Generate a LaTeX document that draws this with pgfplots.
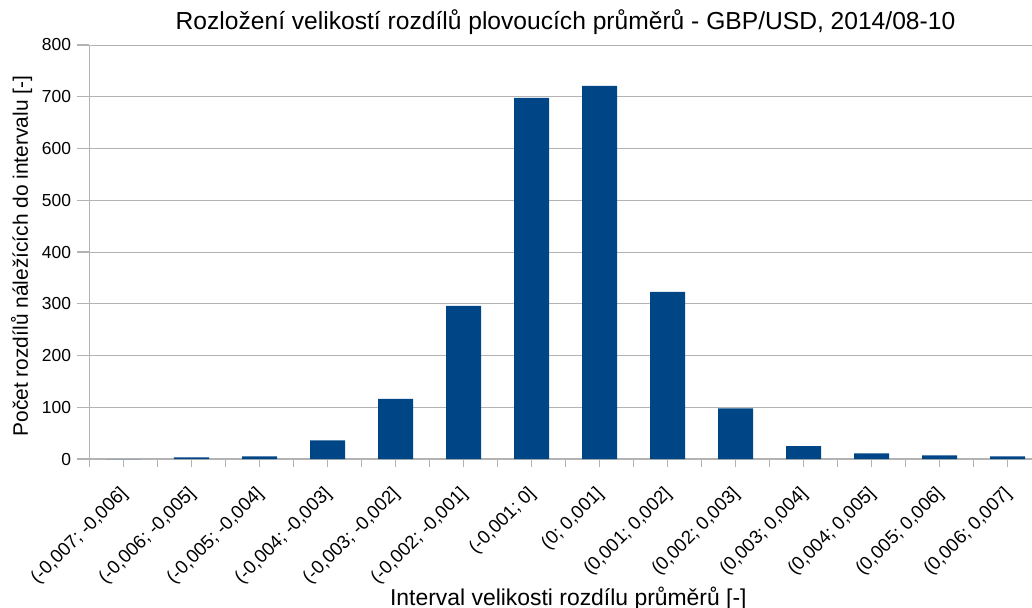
\documentclass[border=0pt]{standalone}
\usepackage{fontspec}
\setmainfont{Liberation Sans}
\usepackage{pgfplots}
\pgfplotsset{compat=1.18}
\definecolor{barc}{HTML}{004586}
\definecolor{gridc}{HTML}{B3B3B3}
\begin{document}
\begin{tikzpicture}
\begin{axis}[
  scale only axis, width=952bp, height=414bp,
  xmin=-0.5, xmax=13.5, ymin=0, ymax=800,
  ytick={0,100,...,800},
  xtick={-0.5,0.5,...,13.5},
  xticklabels={},
  extra x ticks={0,...,13},
  extra x tick labels={{(-0,007; -0,006]},{(-0,006; -0,005]},{(-0,005; -0,004]},{(-0,004; -0,003]},{(-0,003; -0,002]},{(-0,002; -0,001]},{(-0,001; 0]},{(0; 0,001]},{(0,001; 0,002]},{(0,002; 0,003]},{(0,003; 0,004]},{(0,004; 0,005]},{(0,005; 0,006]},{(0,006; 0,007]}},
  extra x tick style={grid=none, major tick length=0pt,
    tick label style={xshift=-5bp, yshift=-21bp, rotate=45, anchor=north east, font=\fontsize{18.7}{22}\selectfont}},
  xtick style={draw=gridc, line width=1.2bp, /pgfplots/major tick length=8bp},
  y tick label style={xshift=-3bp, font=\fontsize{17.5}{21}\selectfont},
  axis x line*=bottom, axis y line*=left,
  axis line style={-, draw=gridc, line width=1.5bp},
  tick align=outside,
  ytick style={draw=gridc, line width=1.2bp},
  major tick length=12bp,
  ymajorgrids, grid style={draw=gridc, line width=0.8bp},
  title={Rozložení velikostí rozdílů plovoucích průměrů - GBP/USD, 2014/08-10},
  title style={font=\fontsize{24.7}{29}\selectfont, at={(axis description cs:0.5,1.0242)}, anchor=base},
  xlabel={Interval velikosti rozdílu průměrů [-]},
  ylabel={Počet rozdílů náležících do intervalu [-]},
  xlabel style={font=\fontsize{23}{27}\selectfont, at={(axis description cs:0.503,-0.3527)}, anchor=base},
  ylabel style={font=\fontsize{21}{25}\selectfont, at={(axis description cs:-0.0646,0.490)}, anchor=base},
  /pgf/number format/assume math mode=true,
]
\addplot[ybar, bar width=35bp, fill=barc, draw=none] coordinates {
(0,0) (1,3) (2,5) (3,36) (4,116) (5,296) (6,698) (7,721) (8,323) (9,98) (10,25) (11,11) (12,7) (13,5)};
\end{axis}
\pgfresetboundingbox
\path[use as bounding box] ([xshift=-89.5bp,yshift=-149bp]current axis.south west) rectangle ([xshift=-9.5bp,yshift=45bp]current axis.north east);
\end{tikzpicture}
\end{document}
